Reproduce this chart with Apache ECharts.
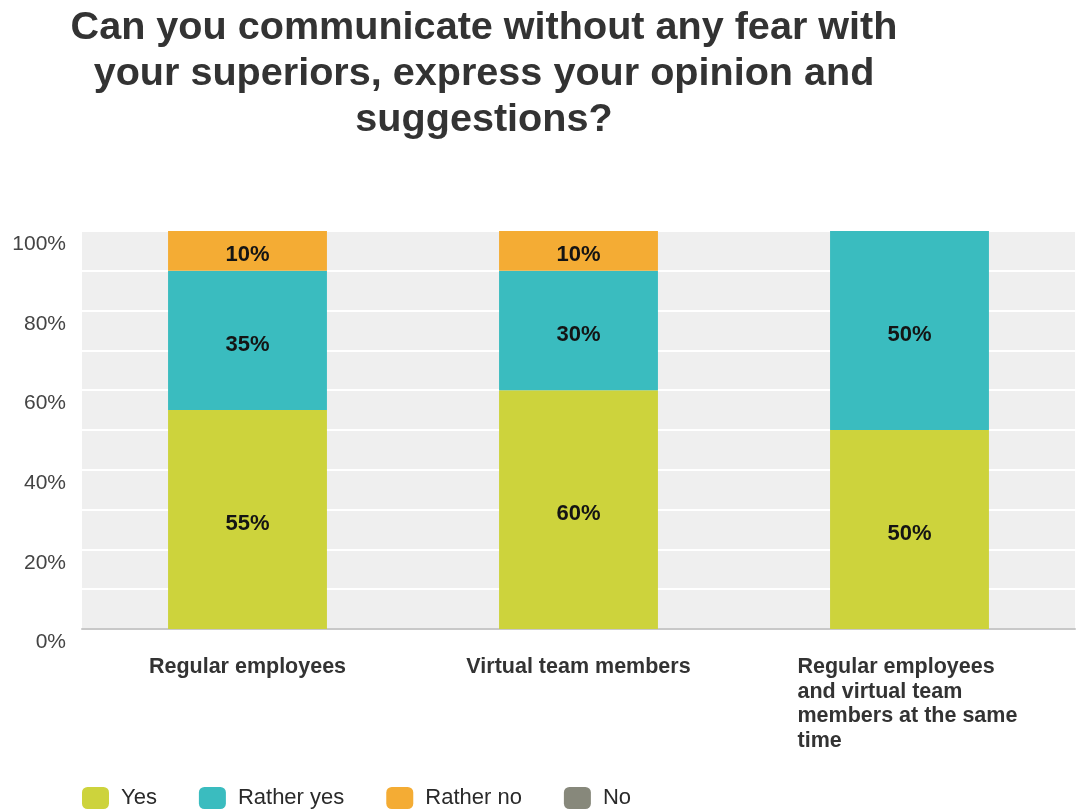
<!DOCTYPE html>
<html>
<head>
<meta charset="utf-8">
<style>
  html, body { margin: 0; padding: 0; background: #ffffff; }
  #chart { width: 1077px; height: 811px; }
</style>
<script src="https://cdn.jsdelivr.net/npm/echarts@6/dist/echarts.min.js"></script>
</head>
<body>
<div id="chart"></div>
<script>
// Survey answers, percent of respondents per group
const categories = [
  'Regular employees',
  'Virtual team members',
  'Regular employees\nand virtual team\nmembers at the same\ntime'
];
const yesValues = [55, 60, 50];
const ratherYesValues = [35, 30, 50];
const ratherNoValues = [10, 10, 0];
const noValues = [0, 0, 0];
const seriesNames = ['Yes', 'Rather yes', 'Rather no', 'No'];
const seriesColors = ['#cdd33c', '#3abcbf', '#f4ac34', '#87887b'];
const yTicks = [0, 20, 40, 60, 80, 100];

const FONT = '"Liberation Sans", Arial, Helvetica, sans-serif';
const chart = echarts.init(document.getElementById('chart'), null, { renderer: 'canvas' });

function barSeries(name, data, color) {
  return {
    name: name,
    type: 'bar',
    stack: 'total',
    barWidth: '48%',
    data: data,
    itemStyle: { color: color },
    label: {
      show: true,
      position: 'inside',
      offset: [0, 4],
      formatter: p => (p.value > 0 ? p.value + '%' : ''),
      color: '#141414',
      fontFamily: FONT,
      fontWeight: 'bold',
      fontSize: 22
    },
    emphasis: { disabled: true }
  };
}

chart.setOption({
  animation: false,
  backgroundColor: '#ffffff',
  textStyle: { fontFamily: FONT },
  title: {
    text: 'Can you communicate without any fear with\nyour superiors, express your opinion and\nsuggestions?',
    left: 479,
    top: 0,
    textAlign: 'center',
    textStyle: {
      fontFamily: FONT,
      fontSize: 39.6,
      lineHeight: 46,
      fontWeight: 'bold',
      color: '#333333'
    }
  },
  legend: {
    data: seriesNames,
    left: 77,
    top: 782,
    icon: 'roundRect',
    itemWidth: 27,
    itemHeight: 22,
    itemGap: 42,
    selectedMode: false,
    textStyle: {
      fontFamily: FONT,
      fontSize: 22,
      color: '#2a2a2a',
      padding: [0, 0, 0, 7]
    }
  },
  grid: {
    left: 82,
    right: 2,
    top: 231,
    bottom: 182,
    show: true,
    backgroundColor: '#efefef',
    borderWidth: 0
  },
  xAxis: {
    type: 'category',
    data: categories,
    axisLine: { show: true, lineStyle: { color: '#c8c8c8', width: 2 } },
    axisTick: { show: false },
    axisLabel: {
      interval: 0,
      margin: 26,
      fontFamily: FONT,
      fontWeight: 'bold',
      fontSize: 21.5,
      lineHeight: 24.5,
      color: '#333333',
      formatter: function (value) {
        if (value.indexOf('\n') < 0) return value;
        return value.split('\n').map(l => '{w|' + l + '}').join('\n');
      },
      rich: {
        w: {
          width: 224,
          align: 'left',
          fontFamily: FONT,
          fontWeight: 'bold',
          fontSize: 21.5,
          lineHeight: 24.5,
          color: '#333333'
        }
      }
    }
  },
  yAxis: {
    type: 'value',
    min: 0,
    max: 100,
    interval: 10,
    axisLine: { show: false },
    axisTick: { show: false },
    splitLine: { show: true, lineStyle: { color: '#ffffff', width: 2 } },
    axisLabel: {
      margin: 16,
      verticalAlign: 'top',
      padding: [3, 0, 0, 0],
      fontFamily: FONT,
      fontSize: 21,
      color: '#444444',
      formatter: v => (yTicks.indexOf(v) >= 0 ? v + '%' : '')
    }
  },
  series: [
    barSeries(seriesNames[0], yesValues, seriesColors[0]),
    barSeries(seriesNames[1], ratherYesValues, seriesColors[1]),
    barSeries(seriesNames[2], ratherNoValues, seriesColors[2]),
    barSeries(seriesNames[3], noValues, seriesColors[3])
  ]
});
</script>
</body>
</html>
